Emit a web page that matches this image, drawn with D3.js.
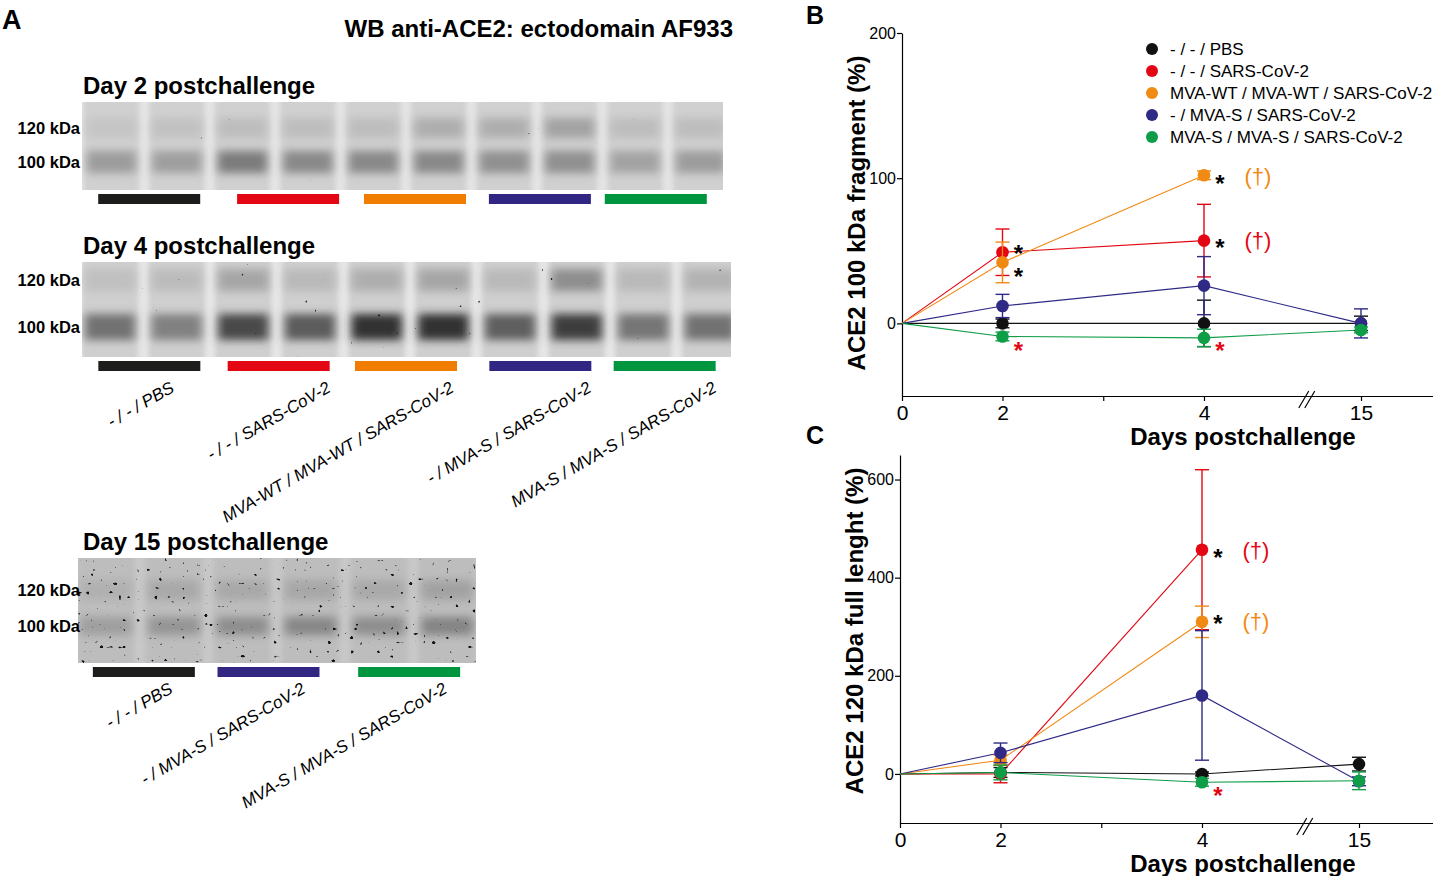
<!DOCTYPE html>
<html>
<head>
<meta charset="utf-8">
<script src="https://cdn.jsdelivr.net/npm/d3@7"></script>
<style>
  body { margin: 0; background: #fff; }
  text { font-family: "Liberation Sans", Arial, sans-serif; }
</style>
</head>
<body>
<svg id="fig" width="1433" height="876"></svg>
<script>
// ---- data ----
const groups = ["- / - / PBS", "- / - / SARS-CoV-2", "MVA-WT / MVA-WT / SARS-CoV-2",
  "- / MVA-S / SARS-CoV-2", "MVA-S / MVA-S / SARS-CoV-2"];
const groupColors = ["#111111", "#e30613", "#f18a13", "#2e2a86", "#0f9d48"];
const barColors = ["#1d1d1b", "#e30613", "#f07d00", "#312783", "#009640"];

const days = [0, 2, 4, 15];
const xTicks = [0, 2, 3, 4, 15];
const fragTicks = [0, 100, 200];
const fullTicks = [0, 200, 400, 600];

// ACE2 100 kDa fragment (%), mean and error, null = no animals left
const fragMean = [[0, 0, 0, 0], [0, 49, 57, null], [0, 42, 102, null], [0, 12, 26, 0], [0, -9, -10, -4.5]];
const fragErr  = [[0, 3, 16, 5], [0, 16, 25, null], [0, 14, 3, null], [0, 8, 20, 10], [0, 3, 6, 2]];

// ACE2 120 kDa full length (%)
const fullMean = [[0, 3, 0, 20], [0, 0, 457, null], [0, 28, 310, null], [0, 43, 160, -15], [0, 3, -17, -14]];
const fullErr  = [[0, 10, 4, 14], [0, 18, 163, null], [0, 10, 32, null], [0, 20, 132, 9], [0, 15, 8, 18]];

// significance marks
const fragStarDays = [2, 2, 2, 4, 4, 4];
const fragStarValues = [52, 36, -15, 100, 56, -15];
const fragStarColors = ["#000", "#000", "#e30613", "#000", "#000", "#e30613"];
const fragDaggerValues = [101, 56.5];
const fragDaggerColors = ["#f18a13", "#e30613"];

const fullStarDays = [4, 4, 4];
const fullStarValues = [453, 318, -33];
const fullStarColors = ["#000", "#000", "#e30613"];
const fullDaggerValues = [455, 310];
const fullDaggerColors = ["#e30613", "#f18a13"];

// western blot band densities (0 = none, 1 = saturated), one per lane
const day2Band100 = [0.28, 0.26, 0.45, 0.38, 0.38, 0.38, 0.34, 0.34, 0.24, 0.28];
const day2Band120 = [0.06, 0.08, 0.10, 0.10, 0.10, 0.18, 0.18, 0.24, 0.10, 0.10];
const day4Band100 = [0.50, 0.42, 0.72, 0.62, 0.85, 0.85, 0.60, 0.78, 0.48, 0.50];
const day4Band120 = [0.08, 0.10, 0.22, 0.12, 0.18, 0.22, 0.12, 0.35, 0.12, 0.15];
const day15Band100 = [0.18, 0.24, 0.28, 0.32, 0.28, 0.34];
const day15Band120 = [0.08, 0.12, 0.12, 0.13, 0.12, 0.16];
const allGroups = [0, 1, 2, 3, 4];
const day15Groups = [0, 3, 4];
const kdaLabels = ["120 kDa", "100 kDa"];

// ---- drawing ----
const svg = d3.select("#fig");
const defs = svg.append("defs");

const soft = defs.append("filter").attr("id", "soft")
  .attr("x", "-50%").attr("y", "-50%").attr("width", "200%").attr("height", "200%");
soft.append("feGaussianBlur").attr("stdDeviation", 2.5);

const bandBlur = defs.append("filter").attr("id", "bandBlur")
  .attr("x", "-50%").attr("y", "-100%").attr("width", "200%").attr("height", "300%");
bandBlur.append("feGaussianBlur").attr("stdDeviation", "5 4");

function speckFilter(id, thr, seed) {
  const f = defs.append("filter").attr("id", id)
    .attr("x", 0).attr("y", 0).attr("width", "100%").attr("height", "100%");
  f.append("feTurbulence").attr("type", "fractalNoise").attr("baseFrequency", 0.22)
    .attr("numOctaves", 1).attr("seed", seed);
  f.append("feColorMatrix").attr("type", "matrix")
    .attr("values", `0 0 0 0 0  0 0 0 0 0  0 0 0 0 0  18 0 0 0 ${-18 * thr}`);
}
speckFilter("speck1", 0.80, 4);
speckFilter("speck2", 0.77, 9);
speckFilter("speck3", 0.70, 2);

// panel letters
svg.append("text").attr("x", 2).attr("y", 29).attr("font-size", 27).attr("font-weight", "bold").text("A");
svg.append("text").attr("x", 806).attr("y", 24).attr("font-size", 25).attr("font-weight", "bold").text("B");
svg.append("text").attr("x", 806).attr("y", 444).attr("font-size", 25).attr("font-weight", "bold").text("C");

svg.append("text").attr("x", 733).attr("y", 37).attr("text-anchor", "end")
  .attr("font-size", 24).attr("font-weight", "bold").text("WB anti-ACE2: ectodomain AF933");

function drawBlot(b) {
  const g = svg.append("g");
  const n = b.band100.length;
  const shade = d3.scaleLinear().domain([0, 1]).range([b.laneFill, "#151515"]);

  g.append("text").attr("x", 83).attr("y", b.y0 - 8).attr("font-size", 24)
    .attr("font-weight", "bold").text(b.title);

  defs.append("clipPath").attr("id", "clip" + b.id).append("rect")
    .attr("x", b.x0).attr("y", b.y0).attr("width", b.x1 - b.x0).attr("height", b.y1 - b.y0);
  const inner = g.append("g").attr("clip-path", `url(#clip${b.id})`);
  inner.append("rect").attr("x", b.x0).attr("y", b.y0)
    .attr("width", b.x1 - b.x0).attr("height", b.y1 - b.y0).attr("fill", b.gapFill);

  const lanes = d3.scaleBand().domain(d3.range(n)).range(b.laneRange).paddingInner(0.16);

  inner.selectAll(".lane").data(b.band100).join("rect")
    .attr("x", (d, i) => lanes(i)).attr("y", b.y0 - 10)
    .attr("width", lanes.bandwidth()).attr("height", b.y1 - b.y0 + 20)
    .attr("fill", b.laneFill).attr("filter", "url(#soft)");

  inner.selectAll(".b120").data(b.band120).join("rect")
    .attr("x", (d, i) => lanes(i) + 3).attr("y", b.y120 - b.h120 / 2)
    .attr("width", lanes.bandwidth() - 6).attr("height", b.h120)
    .attr("fill", d => shade(d)).attr("filter", "url(#bandBlur)");

  inner.selectAll(".b100").data(b.band100).join("rect")
    .attr("x", (d, i) => lanes(i) + 3).attr("y", b.y100 - b.h100 / 2)
    .attr("width", lanes.bandwidth() - 6).attr("height", b.h100)
    .attr("fill", d => shade(d)).attr("filter", "url(#bandBlur)");

  inner.append("rect").attr("x", b.x0).attr("y", b.y0)
    .attr("width", b.x1 - b.x0).attr("height", b.y1 - b.y0)
    .attr("fill", "#000").attr("filter", `url(#${b.speck})`).attr("opacity", b.speckOpacity);

  g.selectAll(".kda").data(kdaLabels).join("text")
    .attr("x", 80).attr("y", (d, i) => (i === 0 ? b.y120 : b.y100) + 6)
    .attr("text-anchor", "end").attr("font-size", 16.5).attr("font-weight", "bold").text(d => d);

  // group bars: under each pair of lanes, nudged as in the figure
  const barCenter = j => (lanes(2 * j) + lanes(2 * j + 1) + lanes.bandwidth()) / 2 + b.barShift[j];
  g.selectAll(".bar").data(b.groups).join("rect")
    .attr("x", (d, j) => barCenter(j) - 51).attr("y", b.y1 + 4)
    .attr("width", 102).attr("height", 10).attr("fill", d => barColors[d]);

  if (b.labelDx) {
    g.selectAll(".glab").data(b.groups).join("text")
      .attr("transform", (d, j) => `translate(${barCenter(j) + b.labelDx[j]},${b.labelY}) rotate(-30)`)
      .attr("text-anchor", "end").attr("font-size", 17).attr("font-style", "italic")
      .text(d => groups[d]);
  }
}

drawBlot({ id: 1, title: "Day 2 postchallenge", x0: 82, x1: 723, y0: 102, y1: 190, laneRange: [84, 728],
  band100: day2Band100, band120: day2Band120, y100: 162, y120: 128, h100: 22, h120: 20,
  gapFill: "#e4e4e4", laneFill: "#d0d0d0", speck: "speck1", speckOpacity: 0.6, groups: allGroups,
  barShift: [5, 13, 9, 3, -12] });

drawBlot({ id: 2, title: "Day 4 postchallenge", x0: 82, x1: 731, y0: 262, y1: 357, laneRange: [82, 738],
  band100: day4Band100, band120: day4Band120, y100: 327, y120: 280, h100: 26, h120: 22,
  gapFill: "#e6e6e6", laneFill: "#cfcfcf", speck: "speck2", speckOpacity: 0.8, groups: allGroups,
  barShift: [6, 2, -4, -3, -12], labelDx: [26, 53, 49, 52, 53], labelY: 391 });

drawBlot({ id: 3, title: "Day 15 postchallenge", x0: 78, x1: 476, y0: 558, y1: 663, laneRange: [77, 476],
  band100: day15Band100, band120: day15Band120, y100: 626, y120: 590, h100: 18, h120: 20,
  gapFill: "#c8c8c8", laneFill: "#bdbdbd", speck: "speck3", speckOpacity: 0.9, groups: day15Groups,
  barShift: [4, -8, -4], labelDx: [30, 38, 39], labelY: 692 });

function drawPanel(p) {
  const x = d3.scaleLinear().domain([0, 2, 4, 15, 18])
    .range([p.left, p.left + 100.5, p.left + 302, p.left + 459, 1433]);
  const y = d3.scaleLinear().domain(p.yDomain).range([p.bottom, p.top]);
  const g = svg.append("g");

  const yAxis = g.append("g").attr("transform", `translate(${p.left},0)`)
    .call(d3.axisLeft(y).tickValues(p.yTicks).tickSize(5).tickSizeOuter(0).tickPadding(1));
  yAxis.selectAll("text").attr("font-size", 16).attr("fill", "#000")
    .attr("font-family", "Liberation Sans, Arial, sans-serif");

  const xAxis = g.append("g").attr("transform", `translate(0,${p.bottom})`)
    .call(d3.axisBottom(x).tickValues(xTicks).tickSize(5).tickSizeOuter(0).tickPadding(4)
      .tickFormat(d => d === 3 ? "" : d));
  xAxis.selectAll("text").attr("font-size", 21).attr("fill", "#000")
    .attr("font-family", "Liberation Sans, Arial, sans-serif");
  g.selectAll(".domain, .tick line").attr("stroke", "#000").attr("stroke-width", 1.2);

  // axis break
  const bx = x(11.2);
  [-3, 3].forEach(o => {
    g.append("line").attr("x1", bx + o - 5).attr("y1", p.bottom + 12)
      .attr("x2", bx + o + 5).attr("y2", p.bottom - 5).attr("stroke", "#000").attr("stroke-width", 1.2);
  });

  g.append("text").attr("x", 1243).attr("y", p.bottom + 49).attr("text-anchor", "middle")
    .attr("font-size", 24).attr("font-weight", "bold").text("Days postchallenge");
  g.append("text").attr("transform", `translate(${p.left - 37},${p.titleY}) rotate(-90)`)
    .attr("text-anchor", "middle").attr("font-size", 24).attr("font-weight", "bold").text(p.title);

  const line = d3.line().defined(d => d.v != null).x(d => x(d.day)).y(d => y(d.v));
  const series = groups.map((name, gi) => days.map((day, di) => ({
    day, v: p.mean[gi][di], e: p.err[gi][di], gi })));

  series.forEach(s => {
    g.append("path").datum(s).attr("d", line).attr("fill", "none")
      .attr("stroke", groupColors[s[0].gi]).attr("stroke-width", 1.1);
  });

  series.forEach(s => {
    const col = groupColors[s[0].gi];
    const pts = s.filter(d => d.v != null && d.day > 0);
    const eg = g.append("g").attr("stroke", col).attr("stroke-width", 1.4);
    eg.selectAll(".ev").data(pts).join("line")
      .attr("x1", d => x(d.day)).attr("x2", d => x(d.day))
      .attr("y1", d => y(d.v - d.e)).attr("y2", d => y(d.v + d.e));
    eg.selectAll(".ct").data(pts).join("line")
      .attr("x1", d => x(d.day) - 7).attr("x2", d => x(d.day) + 7)
      .attr("y1", d => y(d.v + d.e)).attr("y2", d => y(d.v + d.e));
    eg.selectAll(".cb").data(pts).join("line")
      .attr("x1", d => x(d.day) - 7).attr("x2", d => x(d.day) + 7)
      .attr("y1", d => y(d.v - d.e)).attr("y2", d => y(d.v - d.e));
    g.selectAll(null).data(pts).join("circle")
      .attr("cx", d => x(d.day)).attr("cy", d => y(d.v)).attr("r", 6.3).attr("fill", col);
  });

  g.selectAll(".star").data(p.starValues).join("text")
    .attr("x", (d, i) => x(p.starDays[i]) + 16).attr("y", d => y(d) + 14)
    .attr("text-anchor", "middle").attr("font-size", 24).attr("font-weight", "bold")
    .attr("fill", (d, i) => p.starColors[i]).text("*");

  g.selectAll(".dag").data(p.daggerValues).join("text")
    .attr("x", x(4) + 54).attr("y", d => y(d) + 7)
    .attr("text-anchor", "middle").attr("font-size", 22)
    .attr("fill", (d, i) => p.daggerColors[i]).text("(†)");
}

drawPanel({ left: 902, top: 33, bottom: 396, yDomain: [-50, 200], yTicks: fragTicks,
  mean: fragMean, err: fragErr, title: "ACE2 100 kDa fragment (%)", titleY: 213,
  starDays: fragStarDays, starValues: fragStarValues, starColors: fragStarColors,
  daggerValues: fragDaggerValues, daggerColors: fragDaggerColors });

drawPanel({ left: 900, top: 455, bottom: 823, yDomain: [-100, 650], yTicks: fullTicks,
  mean: fullMean, err: fullErr, title: "ACE2 120 kDa full lenght (%)", titleY: 631,
  starDays: fullStarDays, starValues: fullStarValues, starColors: fullStarColors,
  daggerValues: fullDaggerValues, daggerColors: fullDaggerColors });

// legend (panel B)
const legend = svg.append("g").attr("transform", "translate(1152,49)");
legend.selectAll("circle").data(groups).join("circle")
  .attr("cx", 0).attr("cy", (d, i) => i * 22).attr("r", 6).attr("fill", (d, i) => groupColors[i]);
legend.selectAll("text").data(groups).join("text")
  .attr("x", 18).attr("y", (d, i) => i * 22 + 6).attr("font-size", 17).text(d => d);
</script>
</body>
</html>
